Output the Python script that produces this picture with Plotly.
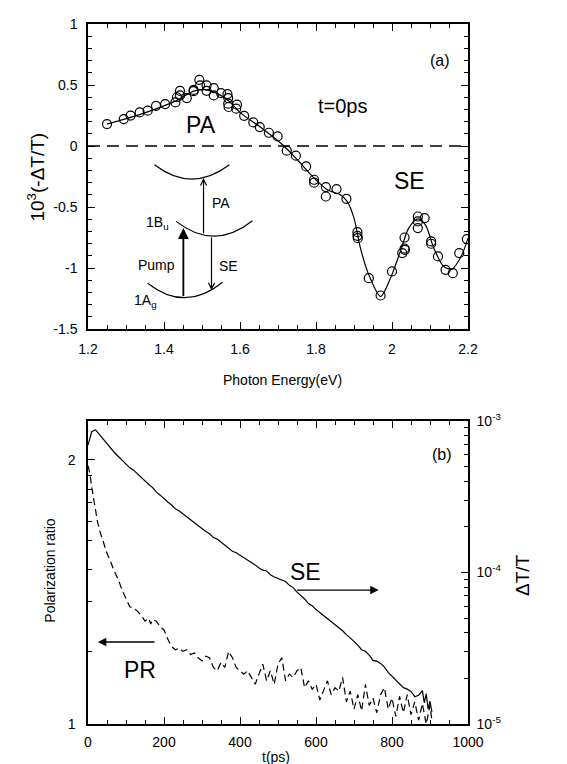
import plotly.graph_objects as go

# ---------------- Panel (a) data ----------------
energy_pts = [1.250, 1.294, 1.312, 1.336, 1.357, 1.379, 1.403, 1.430, 1.434, 1.442, 1.442, 1.460,
              1.478, 1.478, 1.493, 1.495, 1.512, 1.512, 1.531, 1.531, 1.550, 1.567, 1.569, 1.569,
              1.570, 1.592, 1.590, 1.611, 1.635, 1.652, 1.676, 1.699, 1.723, 1.747, 1.774, 1.795,
              1.795, 1.826, 1.826, 1.854, 1.880, 1.909, 1.909, 1.910, 1.939, 1.970, 2.000, 2.027,
              2.033, 2.033, 2.034, 2.068, 2.068, 2.068, 2.086, 2.103, 2.103, 2.121, 2.141, 2.160,
              2.177, 2.197]
signal_pts = [0.18, 0.221, 0.25, 0.276, 0.29, 0.33, 0.344, 0.358, 0.40, 0.453, 0.415, 0.393,
              0.46, 0.45, 0.543, 0.497, 0.497, 0.453, 0.475, 0.415, 0.434, 0.426, 0.393, 0.347,
              0.32, 0.339, 0.306, 0.248, 0.194, 0.156, 0.109, 0.079, -0.038, -0.079, -0.167, -0.276,
              -0.30, -0.336, -0.413, -0.352, -0.432, -0.705, -0.735, -0.754, -1.082, -1.224, -1.027, -0.877,
              -0.749, -0.839, -0.85, -0.577, -0.617, -0.672, -0.59, -0.781, -0.80, -0.904, -1.014, -1.041,
              -0.877, -0.762]

energy_fit = [1.25, 1.34, 1.428, 1.478, 1.506, 1.541, 1.572, 1.602, 1.655, 1.712, 1.751, 1.795,
              1.830, 1.865, 1.882, 1.900, 1.917, 1.939, 1.970, 1.996, 2.022, 2.044, 2.068, 2.088,
              2.110, 2.136, 2.158, 2.184, 2.2]
signal_fit = [0.18, 0.262, 0.366, 0.45, 0.462, 0.43, 0.366, 0.27, 0.153, 0.011, -0.112, -0.262,
              -0.358, -0.40, -0.453, -0.59, -0.836, -1.055, -1.232, -1.082, -0.863, -0.672, -0.596, -0.645,
              -0.836, -0.986, -1.008, -0.89, -0.754]

# ---------------- Panel (b) data ----------------
t_se = [0, 10, 20, 30, 40, 50, 60, 70, 80, 90, 100, 110, 120, 130, 140, 150, 160, 170, 180, 190,
        200, 210, 220, 230, 240, 250, 260, 270, 280, 290, 300, 310, 320, 330, 340, 350, 360, 370,
        380, 390, 400, 410, 420, 430, 440, 450, 460, 470, 480, 490, 500, 510, 520, 530, 540, 550,
        560, 570, 580, 590, 600, 610, 620, 630, 640, 650, 660, 670, 680, 690, 700, 710, 720, 730,
        740, 750, 760, 770, 780, 790, 800, 810, 820, 830, 840, 850, 860, 870, 880, 885, 890, 895,
        900, 905]
se_log10 = [-3.16, -3.07, -3.06, -3.09, -3.12, -3.155, -3.185, -3.21, -3.235, -3.26, -3.28, -3.31,
            -3.325, -3.35, -3.37, -3.395, -3.42, -3.44, -3.47, -3.49, -3.515, -3.535, -3.555, -3.58,
            -3.595, -3.615, -3.635, -3.655, -3.67, -3.69, -3.71, -3.73, -3.745, -3.77, -3.78, -3.80,
            -3.82, -3.835, -3.86, -3.87, -3.885, -3.90, -3.92, -3.935, -3.95, -3.97, -3.985, -3.99,
            -4.015, -4.03, -4.04, -4.055, -4.06, -4.085, -4.10, -4.13, -4.15, -4.175, -4.205, -4.22,
            -4.245, -4.265, -4.28, -4.30, -4.32, -4.345, -4.36, -4.385, -4.41, -4.43, -4.455, -4.48,
            -4.51, -4.52, -4.545, -4.58, -4.585, -4.60, -4.625, -4.66, -4.685, -4.71, -4.74, -4.76,
            -4.77, -4.785, -4.82, -4.81, -4.78, -4.86, -4.80, -4.90, -4.85, -4.92]

t_pr = [0, 5, 10, 15, 20, 25, 30, 40, 50, 60, 70, 80, 90, 100, 110, 120, 130, 140, 150, 160, 165,
        170, 180, 190, 200, 210, 220, 230, 240, 250, 260, 270, 280, 290, 300, 310, 320, 330, 340,
        350, 360, 370, 380, 390, 400, 410, 420, 430, 440, 450, 460, 470, 480, 490, 500, 510, 520,
        530, 540, 550, 560, 570, 580, 590, 600, 610, 620, 630, 640, 650, 660, 670, 680, 690, 700,
        710, 720, 730, 740, 750, 760, 770, 780, 790, 800, 810, 820, 830, 840, 850, 860, 870, 880,
        890, 900, 905]
pr_vals = [1.97, 1.93, 1.86, 1.80, 1.74, 1.70, 1.665, 1.61, 1.565, 1.53, 1.49, 1.46, 1.42, 1.39,
           1.36, 1.355, 1.345, 1.33, 1.31, 1.32, 1.30, 1.315, 1.31, 1.29, 1.28, 1.25, 1.225, 1.215,
           1.22, 1.21, 1.215, 1.20, 1.205, 1.19, 1.18, 1.195, 1.19, 1.16, 1.15, 1.175, 1.16, 1.21,
           1.19, 1.16, 1.15, 1.14, 1.15, 1.13, 1.11, 1.14, 1.17, 1.12, 1.15, 1.11, 1.17, 1.19, 1.12,
           1.14, 1.13, 1.15, 1.16, 1.10, 1.12, 1.095, 1.11, 1.065, 1.09, 1.12, 1.08, 1.10, 1.09, 1.13,
           1.06, 1.09, 1.04, 1.08, 1.035, 1.11, 1.05, 1.07, 1.03, 1.08, 1.10, 1.04, 1.07, 1.02, 1.075,
           1.03, 1.08, 1.025, 1.06, 1.01, 1.055, 1.00, 1.05, 1.01]

x_ticks_a = [1.2, 1.4, 1.6, 1.8, 2.0, 2.2]
x_ticktext_a = ["1.2", "1.4", "1.6", "1.8", "2", "2.2"]
y_ticks_a = [-1.5, -1, -0.5, 0, 0.5, 1]
y_ticktext_a = ["-1.5", "-1", "-0.5", "0", "0.5", "1"]
x_ticks_b = [0, 200, 400, 600, 800, 1000]
pr_ticks = [1, 2]
pr_minor = [1.21, 1.38, 1.5, 1.62, 1.7, 1.79, 1.85, 1.92]
dtt_ticks = [1e-5, 1e-4, 1e-3]
dtt_ticktext = ["10<sup>-5</sup>", "10<sup>-4</sup>", "10<sup>-3</sup>"]
dtt_minor = [2e-5, 3e-5, 4e-5, 5e-5, 6e-5, 7e-5, 8e-5, 9e-5,
             2e-4, 3e-4, 4e-4, 5e-4, 6e-4, 7e-4, 8e-4, 9e-4]

FONT = "Liberation Sans, Arial, Helvetica, sans-serif"
BLK = "black"

fig = go.Figure()

fig.add_trace(go.Scatter(x=energy_fit, y=signal_fit, mode="lines",
                         line=dict(color=BLK, width=1.2, shape="spline", smoothing=0.8),
                         xaxis="x", yaxis="y", hoverinfo="skip"))
fig.add_trace(go.Scatter(x=energy_pts, y=signal_pts, mode="markers",
                         marker=dict(symbol="circle-open", size=9, color=BLK, line=dict(width=1.2)),
                         xaxis="x", yaxis="y"))

fig.add_trace(go.Scatter(x=t_se, y=[10 ** v for v in se_log10], mode="lines",
                         line=dict(color=BLK, width=1.2), xaxis="x2", yaxis="y3"))
fig.add_trace(go.Scatter(x=t_pr, y=pr_vals, mode="lines",
                         line=dict(color=BLK, width=1.2, dash="7px,4px"), xaxis="x2", yaxis="y2"))

common_axis = dict(showgrid=False, zeroline=False, showline=True, linecolor=BLK, linewidth=1.5,
                   ticks="inside", ticklen=7, tickwidth=1.2, tickcolor=BLK, automargin=False,
                   tickfont=dict(family=FONT, size=14, color=BLK))

fig.update_layout(
    width=567, height=764,
    margin=dict(l=80, r=107, t=16, b=48, autoexpand=False),
    paper_bgcolor="white", plot_bgcolor="white",
    showlegend=False,
    font=dict(family=FONT, color=BLK),
    xaxis=dict(domain=[0, 1], anchor="y", range=[1.2, 2.2], tickvals=x_ticks_a, ticktext=x_ticktext_a,
               mirror="ticks", ticklabelstandoff=6,
               minor=dict(dtick=0.05, tick0=1.2, ticks="inside", ticklen=4, tickwidth=1.2, tickcolor=BLK),
               **common_axis),
    yaxis=dict(domain=[0.564, 1], anchor="x", range=[-1.5, 1], tickvals=y_ticks_a, ticktext=y_ticktext_a,
               mirror="ticks", ticklabelstandoff=6,
               minor=dict(dtick=0.1, tick0=0, ticks="inside", ticklen=4, tickwidth=1.2, tickcolor=BLK),
               **common_axis),
    xaxis2=dict(domain=[0, 1], anchor="y2", range=[0, 1000], tickvals=x_ticks_b,
                mirror="ticks", ticklabelstandoff=4,
                minor=dict(dtick=50, tick0=0, ticks="inside", ticklen=4, tickwidth=1.2, tickcolor=BLK),
                **common_axis),
    yaxis2=dict(domain=[0, 0.433], anchor="x2", type="log", range=[0, 0.3455],
                tickvals=pr_ticks, ticktext=["1", "2"], ticklabelstandoff=8,
                minor=dict(tickvals=pr_minor, ticks="inside", ticklen=4, tickwidth=1.2, tickcolor=BLK),
                **common_axis),
    yaxis3=dict(overlaying="y2", anchor="x2", side="right", type="log", range=[-5, -3],
                tickvals=dtt_ticks, ticktext=dtt_ticktext, ticklabelstandoff=4,
                minor=dict(tickvals=dtt_minor, ticks="inside", ticklen=4, tickwidth=1.2, tickcolor=BLK),
                **common_axis),
)

# zero dashed line in (a)
fig.add_shape(type="line", xref="x", yref="y", x0=1.2, x1=2.2, y0=0, y1=0,
              line=dict(color=BLK, width=1.5, dash="12px,7px"))

# energy-level arcs (inset in (a))
arcs = ["M 1.375,-0.153 Q 1.473,-0.387 1.572,-0.153",
        "M 1.432,-0.617 Q 1.532,-0.861 1.633,-0.612",
        "M 1.357,-1.123 Q 1.456,-1.365 1.554,-1.115"]
for p in arcs:
    fig.add_shape(type="path", xref="x", yref="y", path=p, line=dict(color=BLK, width=1.2))

anns = []
def txt(x, y, s, size, xref="x", yref="y", **kw):
    anns.append(dict(x=x, y=y, xref=xref, yref=yref, text=s, showarrow=False,
                     xanchor="center", yanchor="middle",
                     font=dict(family=FONT, size=size, color=BLK), **kw))

def arrow(x, y, ax, ay, xref, yref, head, size, width):
    anns.append(dict(x=x, y=y, ax=ax, ay=ay, xref=xref, yref=yref, axref=xref, ayref=yref,
                     text="", showarrow=True, arrowhead=head, arrowsize=size, arrowwidth=width,
                     arrowcolor=BLK))

# inset arrows
arrow(1.451, -0.672, 1.451, -1.24, "x", "y", 2, 1.2, 1.8)   # Pump
arrow(1.504, -0.262, 1.504, -0.728, "x", "y", 5, 1.0, 1.2)  # PA
arrow(1.525, -1.18, 1.525, -0.737, "x", "y", 5, 1.0, 1.2)   # SE

# inset labels
txt(1.549, -0.467, "PA", 14)
txt(1.384, -0.631, "1B<sub>u</sub>", 14)
txt(1.381, -0.975, "Pump", 14)
txt(1.570, -0.984, "SE", 14)
txt(1.352, -1.27, "1A<sub>g</sub>", 14)

# panel (a) labels
txt(1.497, 0.172, "PA", 23)
txt(1.869, 0.328, "t=0ps", 20)
txt(2.045, -0.287, "SE", 23)
txt(2.127, 0.697, "(a)", 16)

# panel (b) labels and arrows
txt(573, -4.0, "SE", 23, xref="x2", yref="y3")
txt(137, -4.644, "PR", 23, xref="x2", yref="y3")
txt(931, -3.224, "(b)", 16, xref="x2", yref="y3")
arrow(765, -4.116, 546, -4.116, "x2", "y3", 2, 1.3, 1.3)
arrow(26, -4.459, 179, -4.459, "x2", "y3", 2, 1.3, 1.3)

# axis titles
txt(-0.137, 0.782, "10<sup>3</sup>(-ΔT/T)", 19, xref="paper", yref="paper", textangle=-90)
txt(0.513, 0.491, "Photon Energy(eV)", 14, xref="paper", yref="paper")
txt(-0.10, 0.219, "Polarization ratio", 14, xref="paper", yref="paper", textangle=-90)
txt(1.145, 0.213, "ΔT/T", 19, xref="paper", yref="paper", textangle=-90)
txt(0.495, -0.047, "t(ps)", 14, xref="paper", yref="paper")

fig.update_layout(annotations=anns)

fig.write_html("out.html")
